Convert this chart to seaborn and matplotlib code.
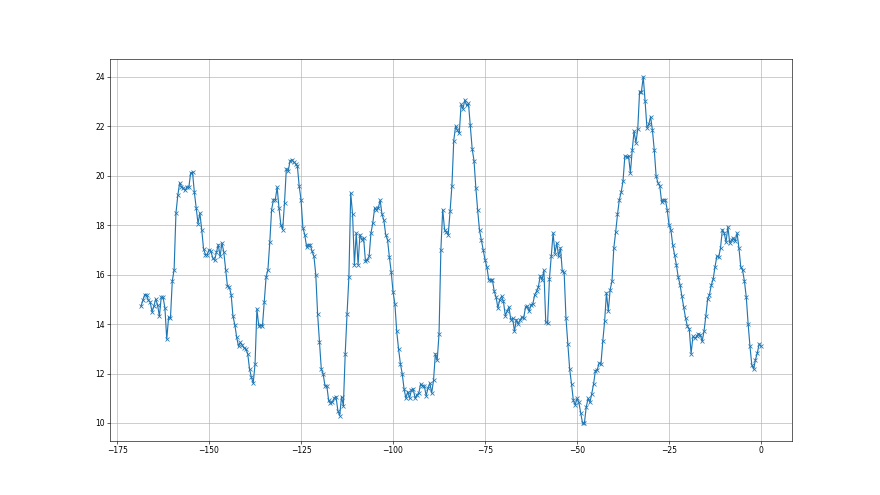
import numpy as np
import matplotlib
matplotlib.use('Agg')
import matplotlib.pyplot as plt
import seaborn as sns

# readings every half hour over the last 7 days (hours relative to now)
seg1 = [14.72, 14.96, 15.19, 15.19, 14.96, 14.89, 14.49, 14.72, 15.01, 14.78,
        14.31, 15.09, 15.09, 14.65, 13.39, 14.28, 14.23, 15.73, 16.2, 18.49,
        19.2, 19.71, 19.55, 19.5, 19.4, 19.55, 19.53, 20.11, 20.14, 19.33,
        18.7, 18.06, 18.49, 17.82, 17.04, 16.81, 16.81, 17.0, 16.94]
seg2 = [16.67, 16.58, 16.9, 17.21, 16.74, 17.28, 16.91, 16.2, 15.52, 15.5,
        15.19, 14.31, 13.97, 13.47, 13.1, 13.26, 13.15, 13.03, 12.99, 12.8,
        12.18, 11.85, 11.61, 12.39, 14.61, 13.93, 13.96, 13.91, 14.88, 15.9,
        16.2, 17.31, 18.63, 19.03, 19.03, 19.53, 18.7, 18.02, 17.82, 18.9,
        20.28, 20.18, 20.59, 20.65]
seg3 = [20.55, 20.49, 20.38, 19.57, 19.01, 17.89, 17.62, 17.12, 17.21, 17.21,
        16.94, 16.74, 16.0, 14.4, 13.26, 12.18, 11.99, 11.5, 11.5, 10.91,
        10.8, 10.83, 11.0, 11.07, 10.5, 10.29, 11.07, 10.69, 12.8, 14.42,
        15.9, 19.3, 18.43, 16.4, 17.68, 16.4, 17.62, 17.41, 17.48, 16.54,
        16.6, 16.74, 17.68]
seg4 = [18.09, 18.7, 18.63, 18.7, 19.01, 18.43, 18.2, 17.62, 17.41, 16.71,
        16.11, 15.3, 14.82, 13.7, 12.99, 12.39, 11.99, 11.37, 11.0, 11.27,
        11.0, 11.34, 11.37, 11.0, 11.14, 11.21, 11.58, 11.5, 11.5, 11.1,
        11.41, 11.61, 11.21, 11.72, 12.8, 12.53, 13.61, 17.01, 18.63, 17.82,
        17.71, 17.62, 18.56]
seg5 = [19.6, 21.42, 22.0, 21.84, 21.71, 22.88, 22.7, 23.06, 22.84, 22.92,
        22.03, 21.09, 20.61, 19.51, 18.6, 17.79, 17.39, 16.98, 16.6, 16.31,
        15.79, 15.77, 15.79, 15.32, 15.09, 14.65, 14.99, 15.12, 14.92, 14.34,
        14.51, 14.69, 14.18, 14.24, 13.7, 14.18, 14.01, 14.15, 14.28, 14.24,
        14.69, 14.72]
seg6 = [14.51, 14.78, 14.82, 15.19, 15.32, 15.5, 15.96, 15.79, 16.17, 14.07,
        14.04, 15.82, 16.74, 17.68, 16.85, 17.28, 16.74, 17.08, 16.13, 16.09,
        14.23, 13.2, 12.18, 11.58, 10.91, 10.73, 10.99, 10.83, 10.42, 9.99,
        9.99, 10.64, 10.99, 10.83, 11.18, 11.58, 12.12, 12.15, 12.42, 12.39,
        13.3, 14.11, 15.26]
seg7 = [14.51, 15.39, 15.73, 17.08, 17.71, 18.43, 19.03, 19.33, 19.78, 20.79,
        20.76, 20.79, 20.11, 21.03, 21.8, 21.33, 21.87, 23.39, 23.39, 24.0,
        23.01, 21.94, 22.07, 22.38, 21.83, 21.02, 19.98, 19.71, 19.57, 18.93,
        19.03, 19.03, 18.63, 18.02, 17.82, 17.21, 16.81, 16.4, 15.9, 15.59,
        15.12, 14.69, 14.24, 13.91]
seg8 = [13.8, 12.8, 13.5, 13.43, 13.5, 13.61, 13.57, 13.3, 13.7, 14.31,
        15.01, 15.19, 15.58, 15.82, 16.31, 16.74, 16.71, 17.08, 17.82, 17.68,
        17.31, 17.93, 17.28, 17.41, 17.48, 17.35, 17.68, 17.08, 16.31, 16.17,
        15.73, 15.09, 14.01, 13.1, 12.35, 12.18, 12.56, 12.83, 13.2, 13.1]

temps = seg1 + seg2 + seg3 + seg4 + seg5 + seg6 + seg7 + seg8
hours = np.arange(-(len(temps) - 1), 1) * 0.5

fig = plt.figure(figsize=(16, 9), dpi=55)
ax = sns.lineplot(x=hours, y=temps, marker='x', color='C0',
                  markeredgecolor='C0', markeredgewidth=1, markersize=6,
                  linewidth=1.5)
plt.grid(True)
plt.savefig('out.png', dpi=55)
